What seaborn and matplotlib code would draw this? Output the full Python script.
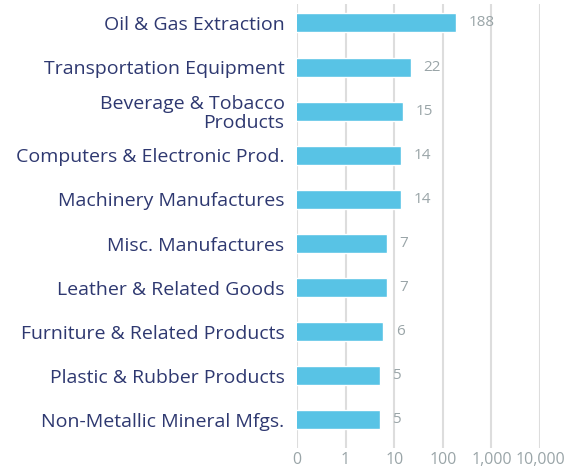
import matplotlib
matplotlib.use("Agg")
import matplotlib.pyplot as plt
import seaborn as sns
import pandas as pd

categories = ["Oil & Gas Extraction", "Transportation Equipment", "Beverage & Tobacco\nProducts",
              "Computers & Electronic Prod.", "Machinery Manufactures", "Misc. Manufactures",
              "Leather & Related Goods", "Furniture & Related Products", "Plastic & Rubber Products",
              "Non-Metallic Mineral Mfgs."]
values = [188, 22, 15, 14, 14, 7, 7, 6, 5, 5]
tick_values = [0.1, 1, 10, 100, 1000, 10000]
tick_labels = ["0", "1", "10", "100", "1,000", "10,000"]

sns.set_theme(style="white")
plt.rcParams['font.family'] = ['Open Sans', 'DejaVu Sans']

df = pd.DataFrame({"cat": categories, "val": values})

fig = plt.figure(figsize=(5.75, 4.68), dpi=100)
ax = fig.add_axes([297/575, 20/468, (540-297)/575, 444/468])
sns.barplot(data=df, x="val", y="cat", color="#58c3e5", saturation=1, width=0.43, ax=ax, zorder=3)
ax.set_xscale("log")
ax.set_xlim(0.1, 10000)
ax.set_ylim(9.636, -0.43)
ax.set_xticks(tick_values)
ax.set_xticklabels(tick_labels)
ax.minorticks_off()
ax.xaxis.grid(True, color="#dddddd", linewidth=1.5, zorder=0)
ax.yaxis.grid(False)
for s in ax.spines.values():
    s.set_visible(False)
ax.set_xlabel("")
ax.set_ylabel("")
ax.tick_params(axis="y", length=0, pad=9, labelsize=14, labelcolor="#2e3870")
ax.tick_params(axis="x", length=0, pad=3, labelsize=11.5, labelcolor="#9aa5a8")
for lbl in ax.get_yticklabels():
    lbl.set_linespacing(1.05)
for c in ax.containers:
    ax.bar_label(c, labels=[str(v) for v in values], padding=9, color="#9aa5a8", fontsize=11)

fig.savefig("out.png", dpi=100)
